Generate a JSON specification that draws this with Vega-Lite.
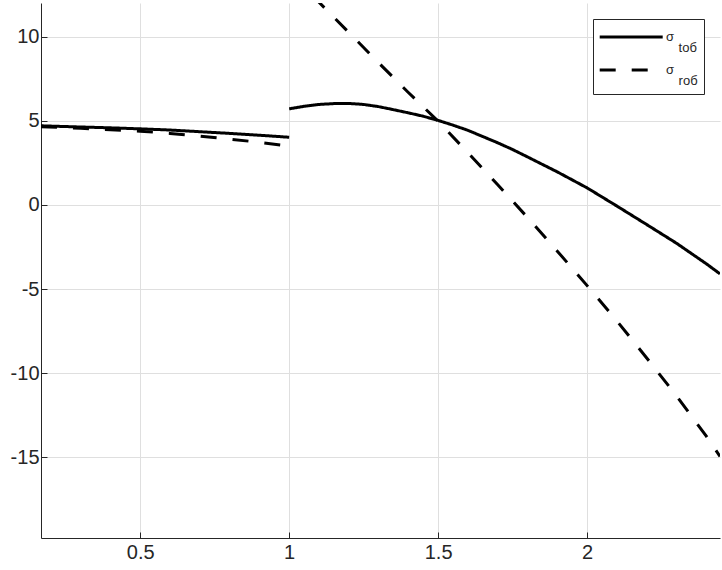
{
  "$schema": "https://vega.github.io/schema/vega-lite/v6.json",
  "width": 679,
  "height": 535,
  "autosize": {"type": "none"},
  "padding": {"left": 41, "top": 3, "right": 2, "bottom": 32},
  "background": "white",
  "config": {
    "view": {"stroke": null},
    "font": "Liberation Sans",
    "axis": {
      "grid": true,
      "gridColor": "#dfdfdf",
      "gridWidth": 1,
      "domainColor": "#262626",
      "domainWidth": 1,
      "tickColor": "#262626",
      "tickWidth": 1,
      "tickSize": -6,
      "labelColor": "#262626",
      "labelFont": "Liberation Sans",
      "labelFontSize": 20,
      "title": null
    }
  },
  "data": {
    "values": [
      {"x": 0.167, "y": 4.70, "s": "σ_toб", "seg": "t1"},
      {"x": 0.3, "y": 4.63, "s": "σ_toб", "seg": "t1"},
      {"x": 0.4, "y": 4.58, "s": "σ_toб", "seg": "t1"},
      {"x": 0.5, "y": 4.52, "s": "σ_toб", "seg": "t1"},
      {"x": 0.6, "y": 4.45, "s": "σ_toб", "seg": "t1"},
      {"x": 0.7, "y": 4.35, "s": "σ_toб", "seg": "t1"},
      {"x": 0.8, "y": 4.25, "s": "σ_toб", "seg": "t1"},
      {"x": 0.9, "y": 4.14, "s": "σ_toб", "seg": "t1"},
      {"x": 1.0, "y": 4.02, "s": "σ_toб", "seg": "t1"},
      {"x": 1.0, "y": 5.71, "s": "σ_toб", "seg": "t2"},
      {"x": 1.05, "y": 5.86, "s": "σ_toб", "seg": "t2"},
      {"x": 1.1, "y": 5.97, "s": "σ_toб", "seg": "t2"},
      {"x": 1.15, "y": 6.02, "s": "σ_toб", "seg": "t2"},
      {"x": 1.2, "y": 6.03, "s": "σ_toб", "seg": "t2"},
      {"x": 1.25, "y": 5.97, "s": "σ_toб", "seg": "t2"},
      {"x": 1.3, "y": 5.84, "s": "σ_toб", "seg": "t2"},
      {"x": 1.35, "y": 5.66, "s": "σ_toб", "seg": "t2"},
      {"x": 1.4, "y": 5.47, "s": "σ_toб", "seg": "t2"},
      {"x": 1.45, "y": 5.27, "s": "σ_toб", "seg": "t2"},
      {"x": 1.5, "y": 5.02, "s": "σ_toб", "seg": "t2"},
      {"x": 1.55, "y": 4.74, "s": "σ_toб", "seg": "t2"},
      {"x": 1.6, "y": 4.43, "s": "σ_toб", "seg": "t2"},
      {"x": 1.65, "y": 4.06, "s": "σ_toб", "seg": "t2"},
      {"x": 1.7, "y": 3.69, "s": "σ_toб", "seg": "t2"},
      {"x": 1.75, "y": 3.29, "s": "σ_toб", "seg": "t2"},
      {"x": 1.8, "y": 2.85, "s": "σ_toб", "seg": "t2"},
      {"x": 1.9, "y": 1.96, "s": "σ_toб", "seg": "t2"},
      {"x": 2.0, "y": 1.01, "s": "σ_toб", "seg": "t2"},
      {"x": 2.1, "y": -0.07, "s": "σ_toб", "seg": "t2"},
      {"x": 2.2, "y": -1.17, "s": "σ_toб", "seg": "t2"},
      {"x": 2.3, "y": -2.28, "s": "σ_toб", "seg": "t2"},
      {"x": 2.4, "y": -3.5, "s": "σ_toб", "seg": "t2"},
      {"x": 2.446, "y": -4.1, "s": "σ_toб", "seg": "t2"},
      {"x": 0.167, "y": 4.65, "s": "σ_roб", "seg": "r1"},
      {"x": 0.3, "y": 4.55, "s": "σ_roб", "seg": "r1"},
      {"x": 0.4, "y": 4.47, "s": "σ_roб", "seg": "r1"},
      {"x": 0.5, "y": 4.38, "s": "σ_roб", "seg": "r1"},
      {"x": 0.6, "y": 4.25, "s": "σ_roб", "seg": "r1"},
      {"x": 0.7, "y": 4.09, "s": "σ_roб", "seg": "r1"},
      {"x": 0.8, "y": 3.91, "s": "σ_roб", "seg": "r1"},
      {"x": 0.9, "y": 3.72, "s": "σ_roб", "seg": "r1"},
      {"x": 1.0, "y": 3.49, "s": "σ_roб", "seg": "r1"},
      {"x": 1.08, "y": 12.4, "s": "σ_roб", "seg": "r2"},
      {"x": 1.1, "y": 12.05, "s": "σ_roб", "seg": "r2"},
      {"x": 1.2, "y": 10.25, "s": "σ_roб", "seg": "r2"},
      {"x": 1.3, "y": 8.45, "s": "σ_roб", "seg": "r2"},
      {"x": 1.4, "y": 6.68, "s": "σ_roб", "seg": "r2"},
      {"x": 1.5, "y": 4.97, "s": "σ_roб", "seg": "r2"},
      {"x": 1.6, "y": 3.1, "s": "σ_roб", "seg": "r2"},
      {"x": 1.7, "y": 1.2, "s": "σ_roб", "seg": "r2"},
      {"x": 1.8, "y": -0.75, "s": "σ_roб", "seg": "r2"},
      {"x": 1.9, "y": -2.75, "s": "σ_roб", "seg": "r2"},
      {"x": 2.0, "y": -4.8, "s": "σ_roб", "seg": "r2"},
      {"x": 2.1, "y": -6.9, "s": "σ_roб", "seg": "r2"},
      {"x": 2.2, "y": -9.1, "s": "σ_roб", "seg": "r2"},
      {"x": 2.3, "y": -11.35, "s": "σ_roб", "seg": "r2"},
      {"x": 2.4, "y": -13.75, "s": "σ_roб", "seg": "r2"},
      {"x": 2.446, "y": -14.95, "s": "σ_roб", "seg": "r2"}
    ]
  },
  "mark": {"type": "line", "clip": true, "color": "black", "strokeWidth": 3, "strokeCap": "butt"},
  "encoding": {
    "x": {
      "field": "x",
      "type": "quantitative",
      "scale": {"domain": [0.167, 2.446], "nice": false, "zero": false},
      "axis": {"values": [0.5, 1, 1.5, 2], "labelPadding": 10, "labelFlush": false, "labelExpr": "toString(datum.value)"}
    },
    "y": {
      "field": "y",
      "type": "quantitative",
      "scale": {"domain": [-19.8, 12], "nice": false, "zero": false},
      "axis": {"values": [-15, -10, -5, 0, 5, 10], "labelPadding": 8, "labelFlush": false, "labelExpr": "toString(datum.value)"}
    },
    "detail": {"field": "seg"},
    "strokeDash": {
      "field": "s",
      "type": "nominal",
      "scale": {"domain": ["σ_toб", "σ_roб"], "range": [[1, 0], [16, 16]]},
      "legend": {
        "title": null,
        "orient": "top-right",
        "offset": 16,
        "strokeColor": "#262626",
        "fillColor": "white",
        "padding": 6,
        "symbolType": "M-1.076,0H4.924",
        "symbolSize": 441,
        "symbolStrokeWidth": 3,
        "symbolStrokeColor": "black",
        "symbolFillColor": "transparent",
        "labelFont": "Liberation Sans",
        "labelFontSize": 13,
        "labelColor": "#262626",
        "labelOffset": 43,
        "labelExpr": "['σ', '\u2800\u2009' + slice(datum.label, 2)]",
        "rowPadding": 3,
        "encode": {"labels": {"update": {"lineHeight": {"value": 11}}}}
      }
    }
  }
}
